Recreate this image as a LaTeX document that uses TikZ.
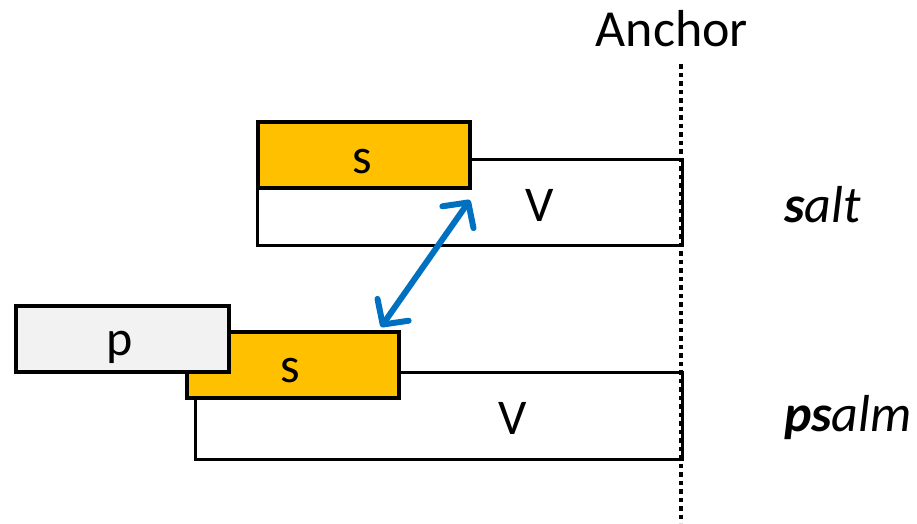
\documentclass[tikz,border=0pt]{standalone}
\usepackage{fontspec}
\setmainfont{Carlito}
\usetikzlibrary{arrows.meta}
\definecolor{sorange}{HTML}{FFC000}
\definecolor{pgray}{HTML}{F2F2F2}
\definecolor{arrblue}{HTML}{0070C0}
\begin{document}
\begin{tikzpicture}[x=1pt,y=-1pt,
  vbox/.style={draw=black, line width=2.8pt, fill=white, anchor=north west, inner sep=0pt},
  sbox/.style={draw=black, line width=3.6pt, fill=sorange, anchor=north west, inner sep=0pt, minimum width=212pt, minimum height=66pt},
  pbox/.style={draw=black, line width=3.6pt, fill=pgray, anchor=north west, inner sep=0pt, minimum width=213pt, minimum height=66pt},
  lbl/.style={font=\fontsize{50}{60}\selectfont, inner sep=0pt},
  word/.style={font=\fontsize{52}{62}\selectfont\itshape, inner sep=0pt, anchor=west},
  anchorline/.style={line width=4.5pt, dash pattern=on 4.5pt off 4pt},
  link/.style={draw=arrblue, line width=6pt, line cap=round, {Straight Barb[length=18pt,width=38pt,line cap=round,line join=round]}-{Straight Barb[length=18pt,width=38pt,line cap=round,line join=round]}}
]
\useasboundingbox (0,0) rectangle (917,523);
% top row (salt)
\node[vbox, minimum width=425pt, minimum height=86pt] (v1) at (256,158) {};
\node[sbox] (s1) at (256,120) {};
\node[lbl] (s1t) at (362,162) {s};
\node[lbl] (v1t) at (540,205) {V};
% bottom row (psalm)
\node[vbox, minimum width=487pt, minimum height=87pt] (v2) at (194,371) {};
\node[sbox] (s2) at (185,330) {};
\node[pbox] (p2) at (14,304) {};
\node[lbl] (s2t) at (290,371) {s};
\node[lbl] (p2t) at (120,347) {p};
\node[lbl] (v2t) at (513,418) {V};
% anchor
\node[font=\fontsize{52}{62}\selectfont, inner sep=0pt, anchor=base] (anc) at (672,46) {Anchor};
\coordinate (atop) at (681,64);
\coordinate (abot) at (681,523);
\draw[anchorline] (atop) -- (abot);
% words
\node[word] (salt) at (784,205) {\textbf{s}alt};
\node[word] (psalm) at (784,418) {\textbf{ps}alm};
% arrow
\coordinate (ahi) at (470,200);
\coordinate (alo) at (381,327);
\draw[link] (alo) -- (ahi);
\end{tikzpicture}
\end{document}
